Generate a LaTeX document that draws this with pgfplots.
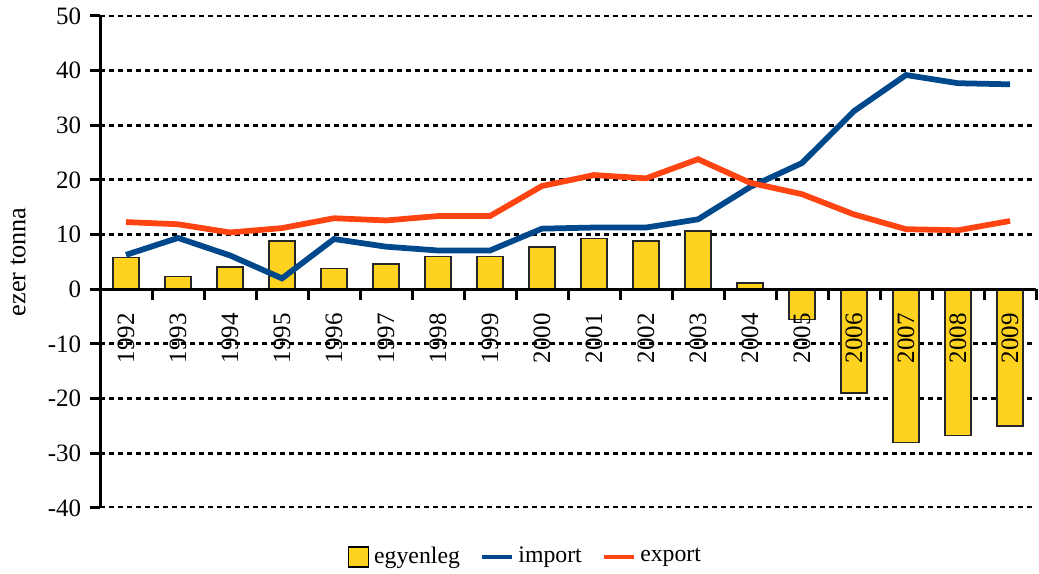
\documentclass[border=0pt]{standalone}
\usepackage{fontspec}
\setmainfont{Liberation Serif}
\usepackage{pgfplots}
\pgfplotsset{compat=1.18}
\usetikzlibrary{calc}
\definecolor{BarGold}{RGB}{255,210,32}
\definecolor{ImpBlue}{RGB}{0,72,140}
\definecolor{ExpRed}{RGB}{255,68,18}

\begin{document}
\fontsize{10}{12}\selectfont
\begin{tikzpicture}
\begin{axis}[
    axis on top,
    scale only axis,
    width=374.4pt, height=196.8pt,
    xmin=-0.5, xmax=17.5,
    ymin=-40, ymax=50,
    axis y line=left, axis x line=middle,
    axis line style={-, line width=1.2pt, black},
    hide obscured x ticks=false, hide obscured y ticks=false,
    ytick={-40,-30,...,50},
    xtick={0,...,17},
    xticklabels={1992,1993,1994,1995,1996,1997,1998,1999,2000,2001,2002,2003,2004,2005,2006,2007,2008,2009},
    minor xtick={0.5,1.5,...,17.5},
    tick align=outside,
    major tick length=4pt, minor tick length=4.4pt,
    every major x tick/.style={draw=none},
    every minor x tick/.style={line width=1.2pt, black},
    every major y tick/.style={line width=1.2pt, black},
    tick label style={font=\fontsize{10}{12}\selectfont},
    /pgf/number format/assume math mode=true,
    xticklabel style={rotate=90, anchor=east, inner xsep=5.3pt},
    ylabel={ezer tonna},
    every axis y label/.style={at={(rel axis cs:0,0.5)}, xshift=-32.8pt, rotate=90, anchor=center, font=\fontsize{10.5}{12}\selectfont},
    legend style={at={(0.456,-0.0996)}, anchor=center, draw=none, fill=none,
        legend columns=-1, font=\fontsize{9.5}{11}\selectfont,
        /tikz/every even column/.append style={column sep=6pt}},
]
% dotted grid lines, drawn first so the bars cover them
\pgfplotsinvokeforeach{-40,-30,-20,-10,10,20,30,40,50}{
    \draw[black, line width=1.2pt, dash pattern=on 2pt off 1.6pt]
        (axis cs:-0.5,#1) -- (axis cs:17.5,#1);
}

\addplot[ybar, bar width=10.4pt, fill=BarGold, draw=black!85, line width=0.6pt,
    legend image code/.code={\draw[fill=BarGold, draw=black, line width=0.6pt] (0pt,-4pt) rectangle (8pt,4pt);}]
coordinates {
 (0,5.8) (1,2.3) (2,4.1) (3,8.8) (4,3.8) (5,4.6) (6,6.0) (7,6.0) (8,7.7)
 (9,9.3) (10,8.8) (11,10.7) (12,1.2) (13,-5.5) (14,-19.0) (15,-28.0) (16,-26.7) (17,-25.0)
};
\addlegendentry{egyenleg}

\addplot[ImpBlue, line width=2.3pt, mark=none,
    legend image code/.code={\draw[ImpBlue, line width=1.4pt] (0pt,0pt) -- (12pt,0pt);}]
coordinates {
 (0,6.3) (1,9.4) (2,6.2) (3,2.0) (4,9.2) (5,7.8) (6,7.1) (7,7.1) (8,11.1)
 (9,11.3) (10,11.3) (11,12.8) (12,18.7) (13,23.1) (14,32.6) (15,39.2) (16,37.7) (17,37.5)
};
\addlegendentry{import}

\addplot[ExpRed, line width=2.3pt, mark=none,
    legend image code/.code={\draw[ExpRed, line width=1.4pt] (0pt,0pt) -- (12pt,0pt);}]
coordinates {
 (0,12.3) (1,11.9) (2,10.4) (3,11.2) (4,13.0) (5,12.6) (6,13.4) (7,13.4) (8,18.9)
 (9,20.9) (10,20.3) (11,23.8) (12,19.5) (13,17.4) (14,13.7) (15,11.0) (16,10.8) (17,12.5)
};
\addlegendentry{export}

\coordinate (pa) at (rel axis cs:0,0);
\coordinate (pb) at (rel axis cs:1,1);
\end{axis}
\pgfresetboundingbox
\path ($(pa)+(-40pt,-26.4pt)$) rectangle ($(pb)+(1.2pt,6.4pt)$);
\end{tikzpicture}
\end{document}
